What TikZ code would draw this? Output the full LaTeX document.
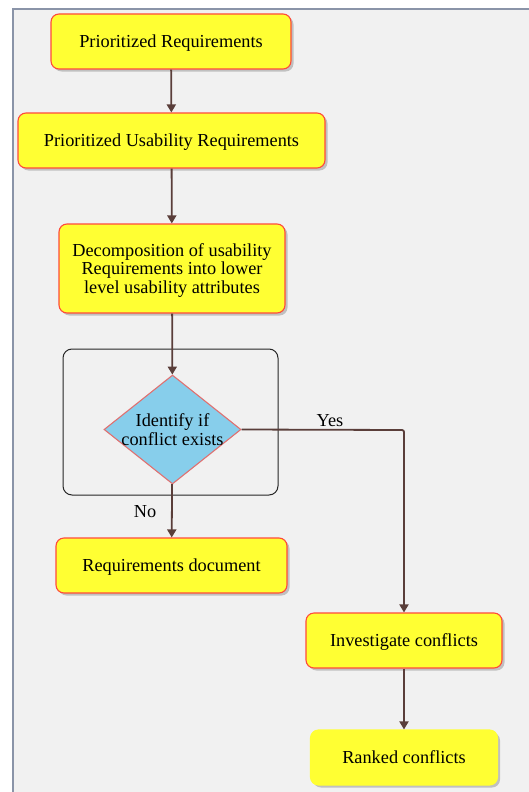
\documentclass[tikz,border=0pt]{standalone}
\usepackage{fontspec}
\setmainfont{Liberation Serif}
\usetikzlibrary{shapes.geometric,arrows.meta,shadows}
\definecolor{bgc}{HTML}{F1F1F1}
\definecolor{framec}{HTML}{8A94A8}
\definecolor{boxy}{HTML}{FFFF33}
\definecolor{boxr}{HTML}{FF4A3A}
\definecolor{skyb}{HTML}{87CEEB}
\definecolor{diar}{HTML}{E07070}
\definecolor{arrc}{HTML}{5A3E3A}
\tikzset{
  ybox/.style={draw=boxr, line width=1.1pt, fill=boxy, rounded corners=8pt,
    align=center, inner sep=0pt, text depth=0pt, font=\fontsize{18.3}{18.5}\selectfont,
    drop shadow={shadow xshift=2.5pt, shadow yshift=-2.5pt, opacity=0.35, fill=black!60}},
  dia/.style={diamond, draw=diar, line width=1.1pt, fill=skyb, aspect=1.26,
    inner sep=-8pt, align=center, font=\fontsize{18.3}{18.5}\selectfont},
  conn/.style={draw=arrc, line width=1.8pt, -{Triangle[length=8pt,width=9pt]}},
  lbl/.style={font=\fontsize{18.3}{18.5}\selectfont, inner sep=0pt}
}
\begin{document}
\begin{tikzpicture}[x=1pt,y=-1pt]
\useasboundingbox (0,0) rectangle (529,792);
\fill[white] (0,0) rectangle (529,792);
\draw[fill=bgc, draw=framec, line width=1.2pt] (13,9) rectangle (540,800);

\node[ybox, minimum width=240pt, minimum height=55pt] (pr) at (171,41.5) {Prioritized Requirements};
\node[ybox, minimum width=307pt, minimum height=55pt] (pur) at (171.5,140.5) {Prioritized Usability Requirements};
\node[ybox, minimum width=226pt, minimum height=89pt] (dec) at (172,268.5) {Decomposition of usability\\Requirements into lower\\level usability attributes};
\node[draw=black!85, line width=1pt, rounded corners=9pt, minimum width=215pt, minimum height=146pt, inner sep=0pt] (cont) at (170.5,422) {};
\node[dia, minimum width=137pt, minimum height=109pt] (d) at (172.5,429.5) {Identify if\\conflict exists};
\node[ybox, minimum width=231pt, minimum height=55pt] (rd) at (171.5,565.5) {Requirements document};
\node[ybox, minimum width=196pt, minimum height=55pt] (ic) at (404,640.5) {Investigate conflicts};
\node[ybox, draw=boxy, minimum width=187pt, minimum height=55pt] (rc) at (404,757.5) {Ranked conflicts};

\coordinate (yc) at (404,430);
\node[lbl] (yes) at (330,421) {Yes};
\node[lbl] (no) at (145,512) {No};

\draw[conn] (pr) -- (pur);
\draw[conn] (pur) -- (dec);
\draw[conn] (dec) -- (d);
\draw[conn] (d) -- (rd);
\draw[conn, rounded corners=2pt] (d.east) -- (yc) -- (ic.north);
\draw[conn] (ic) -- (rc);
\end{tikzpicture}
\end{document}
